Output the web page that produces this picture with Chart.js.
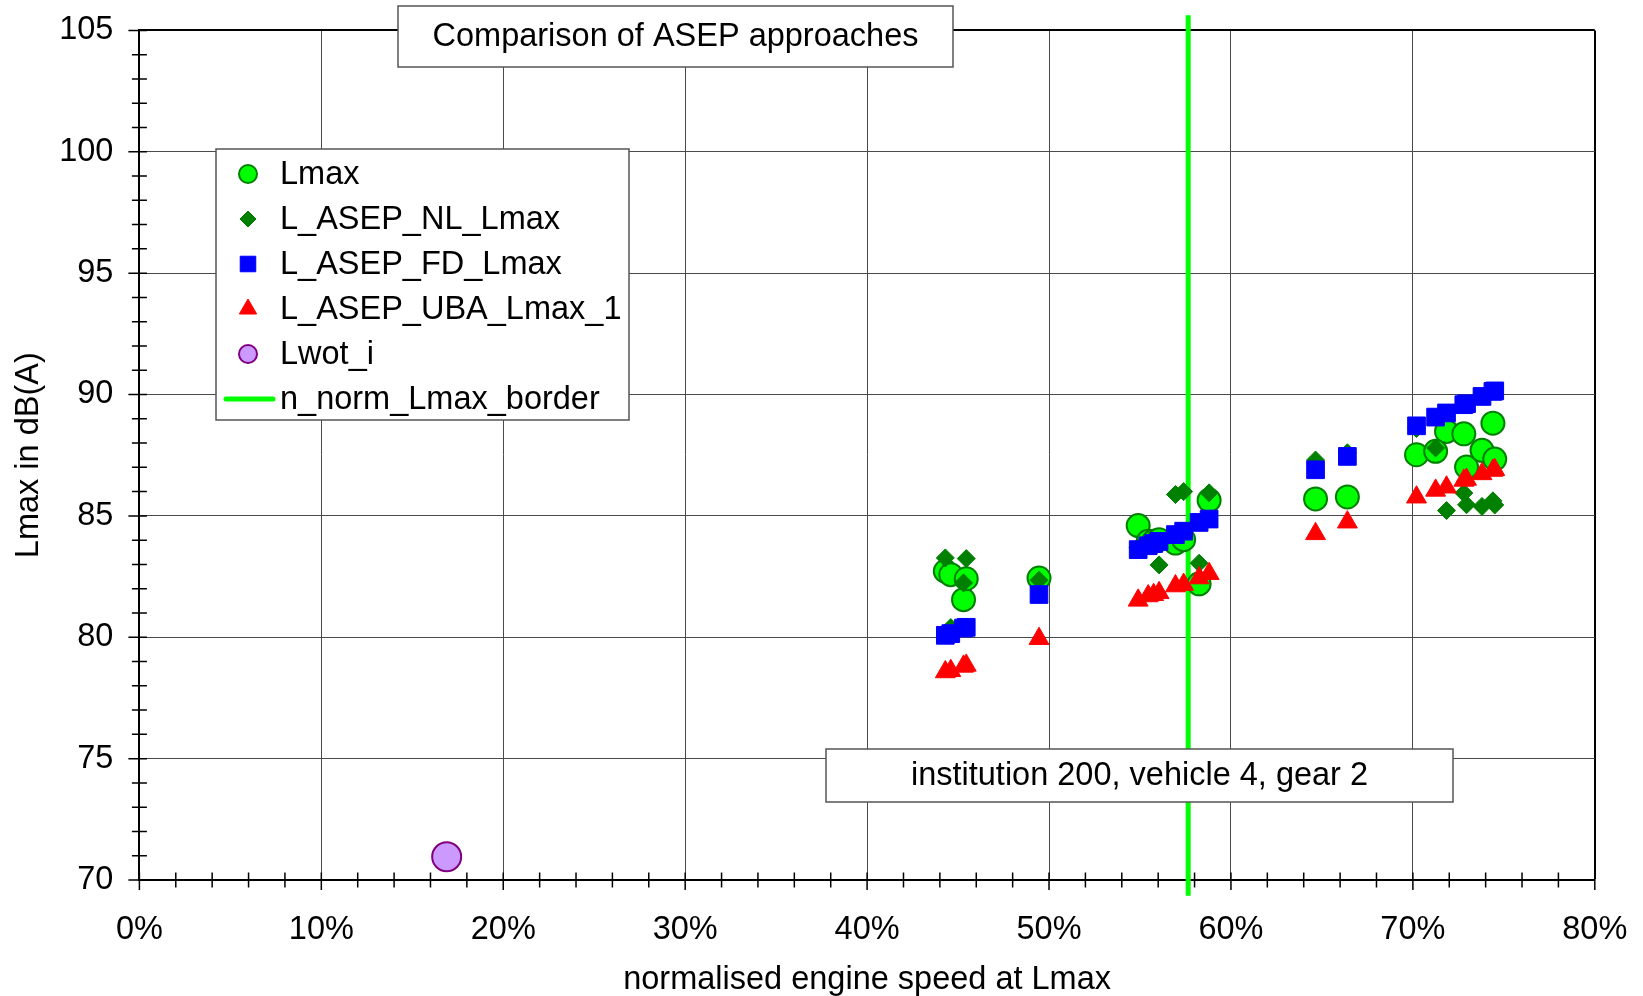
<!DOCTYPE html>
<html>
<head>
<meta charset="utf-8">
<script src="https://cdn.jsdelivr.net/npm/chart.js@4.4.1/dist/chart.umd.min.js"></script>
<style>
  html, body { margin: 0; padding: 0; background: #fff; }
  #wrap { width: 1643px; height: 996px; }
</style>
</head>
<body>
<div id="wrap"><canvas id="chart" width="1643" height="996"></canvas></div>
<script>
// normalised engine speed at Lmax, in %
const nNorm = [44.3, 44.6, 45.3, 45.45, 49.45,
    54.9, 55.45, 55.75, 56.05, 56.95, 57.4, 58.25, 58.8,
    64.65, 66.4,
    70.2, 71.25, 71.85, 72.8, 72.95, 73.8, 74.4, 74.5];

const lmax = [82.72, 82.58, 81.55, 82.41, 82.44,
    84.6, 83.95, 83.95, 84.02, 83.88, 84.02, 82.2, 85.64,
    85.7, 85.78,
    87.52, 87.66, 88.48, 88.38, 87.01, 87.7, 88.82, 87.34];

const lAsepNL = [83.27, 80.4, 82.24, 83.24, 82.35,
    83.7, 83.8, 83.9, 82.98, 85.88, 86.0, 83.05, 85.95,
    87.3, 87.6,
    88.6, 87.8, 85.22, 85.94, 85.46, 85.39, 85.62, 85.45];

const lAsepFD = [80.08, 80.15, 80.38, 80.41, 81.76,
    83.61, 83.77, 83.86, 83.95, 84.23, 84.37, 84.73, 84.87,
    86.9, 87.45,
    88.71, 89.07, 89.24, 89.58, 89.62, 89.92, 90.13, 90.15];

const lAsepUBA = [78.57, 78.62, 78.8, 78.84, 79.94,
    81.52, 81.7, 81.75, 81.83, 82.11, 82.17, 82.44, 82.62,
    84.26, 84.74,
    85.77, 86.05, 86.18, 86.46, 86.5, 86.73, 86.87, 86.9];

const lwotX = [16.89];
const lwotY = [70.96];

// vertical border line
const borderX = [57.65, 57.65];
const borderY = [69.35, 105.62];

const seriesNames = ['Lmax', 'L_ASEP_NL_Lmax', 'L_ASEP_FD_Lmax', 'L_ASEP_UBA_Lmax_1', 'Lwot_i', 'n_norm_Lmax_border'];
const chartTitle = 'Comparison of ASEP approaches';
const infoText = 'institution 200, vehicle 4, gear 2';
const xTitle = 'normalised engine speed at Lmax';
const yTitle = 'Lmax in dB(A)';

const FONT = "'Liberation Sans', Arial, sans-serif";
const FS = 32.5;
const GRID = '#4a4a4a';

function pts(xs, ys) {
    return xs.map((x, i) => ({ x: x, y: ys[i] }));
}

// no extra label padding, so the plot area is where layout.padding says
function noPad(s) {
    s.paddingTop = 0; s.paddingBottom = 0; s.paddingLeft = 0; s.paddingRight = 0;
}

// crossing tick marks like the original
const crossTicks = {
    id: 'crossTicks',
    beforeDatasetsDraw(chart) {
        const ctx = chart.ctx;
        const xs = chart.scales.x, ys = chart.scales.y;
        const x0 = xs.left, y0 = ys.bottom;
        ctx.save();
        ctx.strokeStyle = '#000';
        ctx.lineWidth = 1.5;
        ctx.beginPath();
        for (let v = 70; v <= 105; v += 1) {
            const py = ys.getPixelForValue(v);
            const major = v % 5 === 0;
            ctx.moveTo(x0 - (major ? 11 : 7.5), py);
            ctx.lineTo(x0 + 7.5, py);
        }
        for (let v = 0; v <= 80; v += 2) {
            const px = xs.getPixelForValue(v);
            const major = v % 10 === 0;
            ctx.moveTo(px, y0 - 7.5);
            ctx.lineTo(px, y0 + (major ? 10 : 7.5));
        }
        ctx.stroke();
        ctx.restore();
    }
};

function marker(ctx, style, x, y, r) {
    ctx.beginPath();
    if (style === 'circle') {
        ctx.arc(x, y, r, 0, Math.PI * 2);
    } else if (style === 'rectRot') {
        ctx.moveTo(x - r, y); ctx.lineTo(x, y - r); ctx.lineTo(x + r, y); ctx.lineTo(x, y + r);
    } else if (style === 'rect') {
        const s = r * Math.SQRT1_2;
        ctx.rect(x - s, y - s, 2 * s, 2 * s);
    } else if (style === 'triangle') {
        ctx.moveTo(x, y - r);
        ctx.lineTo(x + r * 0.866, y + r / 2);
        ctx.lineTo(x - r * 0.866, y + r / 2);
    }
    ctx.closePath();
    ctx.fill();
    ctx.stroke();
}

function textBox(ctx, text, l, t, r, b) {
    ctx.fillStyle = '#fff';
    ctx.fillRect(l, t, r - l, b - t);
    ctx.strokeStyle = '#555';
    ctx.lineWidth = 1.5;
    ctx.strokeRect(l, t, r - l, b - t);
    ctx.fillStyle = '#000';
    ctx.font = FS + 'px ' + FONT;
    ctx.textAlign = 'center';
    ctx.textBaseline = 'middle';
    ctx.fillText(text, (l + r) / 2, (t + b) / 2 + 1);
}

const boxes = {
    id: 'boxes',
    afterDraw(chart) {
        const ctx = chart.ctx;
        ctx.save();
        textBox(ctx, chartTitle, 398, 6, 953, 67);
        textBox(ctx, infoText, 826, 749, 1453, 802);

        // legend
        const L = 216, T = 149, R = 629, B = 420;
        ctx.fillStyle = '#fff';
        ctx.fillRect(L, T, R - L, B - T);
        ctx.strokeStyle = '#555';
        ctx.lineWidth = 1.5;
        ctx.strokeRect(L, T, R - L, B - T);
        const ds = chart.data.datasets;
        ds.forEach((d, i) => {
            const yy = T + 25 + i * 45;
            ctx.lineWidth = d.legendBorder;
            if (d.type === 'line') {
                ctx.strokeStyle = d.borderColor;
                ctx.lineWidth = 5;
                ctx.lineCap = 'round';
                ctx.beginPath();
                ctx.moveTo(226, yy);
                ctx.lineTo(273, yy);
                ctx.stroke();
                ctx.lineCap = 'butt';
            } else {
                ctx.fillStyle = d.backgroundColor;
                ctx.strokeStyle = d.borderColor;
                marker(ctx, d.pointStyle, 248, yy, d.legendRadius);
            }
            ctx.fillStyle = '#000';
            ctx.font = FS + 'px ' + FONT;
            ctx.textAlign = 'left';
            ctx.textBaseline = 'middle';
            ctx.fillText(d.label, 280, yy + 1);
        });
        ctx.restore();
    }
};

const cfg = {
    type: 'scatter',
    data: {
        datasets: [{
            label: seriesNames[0],
            data: pts(nNorm, lmax),
            pointStyle: 'circle',
            pointRadius: 11.5,
            backgroundColor: '#00ff00',
            borderColor: '#008000',
            borderWidth: 2,
            legendRadius: 9, legendBorder: 2,
            order: 4
        }, {
            label: seriesNames[1],
            data: pts(nNorm, lAsepNL),
            pointStyle: 'rectRot',
            pointRadius: 9,
            backgroundColor: '#008000',
            borderColor: '#008000',
            borderWidth: 1,
            legendRadius: 8, legendBorder: 1,
            order: 3
        }, {
            label: seriesNames[2],
            data: pts(nNorm, lAsepFD),
            pointStyle: 'rect',
            pointRadius: 12.5,
            backgroundColor: '#0000ff',
            borderColor: '#0000ff',
            borderWidth: 1,
            legendRadius: 11, legendBorder: 1,
            order: 2
        }, {
            label: seriesNames[3],
            data: pts(nNorm, lAsepUBA),
            pointStyle: 'triangle',
            pointRadius: 11.5,
            backgroundColor: '#ff0000',
            borderColor: '#ff0000',
            borderWidth: 1,
            legendRadius: 10, legendBorder: 1,
            order: 1
        }, {
            label: seriesNames[4],
            data: pts(lwotX, lwotY),
            pointStyle: 'circle',
            pointRadius: 14.5,
            backgroundColor: '#cc99ff',
            borderColor: '#800080',
            borderWidth: 2,
            legendRadius: 9, legendBorder: 2,
            order: 0
        }, {
            type: 'line',
            label: seriesNames[5],
            data: pts(borderX, borderY),
            borderColor: '#00ff00',
            borderWidth: 5,
            pointRadius: 0,
            showLine: true,
            clip: false,
            order: 5
        }]
    },
    options: {
        responsive: false,
        devicePixelRatio: 1,
        animation: false,
        layout: { padding: { left: 0, top: 30.4, right: 48.2, bottom: 0 } },
        plugins: {
            legend: { display: false },
            title: { display: false },
            tooltip: { enabled: false }
        },
        scales: {
            x: {
                type: 'linear',
                min: 0, max: 80,
                afterFit(s) { s.height = 116; noPad(s); },
                ticks: {
                    stepSize: 2,
                    autoSkip: false,
                    maxRotation: 0,
                    padding: 31,
                    color: '#000',
                    font: { family: FONT, size: FS },
                    callback: v => (v % 10 === 0 ? v + '%' : '')
                },
                grid: {
                    drawTicks: false,
                    color: c => (c.tick && c.tick.value % 10 === 0 ? (c.tick.value === 80 ? '#000' : GRID) : 'rgba(0,0,0,0)'),
                    lineWidth: c => (c.tick && c.tick.value === 80 ? 2 : 1)
                },
                border: { color: '#000', width: 2 },
                title: {
                    display: true,
                    text: xTitle,
                    color: '#000',
                    font: { family: FONT, size: FS, lineHeight: 1.0 },
                    padding: { top: 0, bottom: 0 }
                }
            },
            y: {
                type: 'linear',
                min: 70, max: 105,
                afterFit(s) { s.width = 139.4; noPad(s); },
                ticks: {
                    stepSize: 1,
                    autoSkip: false,
                    padding: 26,
                    color: '#000',
                    font: { family: FONT, size: FS },
                    callback: v => (v % 5 === 0 ? v : '')
                },
                grid: {
                    drawTicks: false,
                    color: c => (c.tick && c.tick.value % 5 === 0 ? (c.tick.value === 105 ? '#000' : GRID) : 'rgba(0,0,0,0)'),
                    lineWidth: c => (c.tick && c.tick.value === 105 ? 2 : 1)
                },
                border: { color: '#000', width: 2 },
                title: {
                    display: true,
                    text: yTitle,
                    color: '#000',
                    font: { family: FONT, size: FS, lineHeight: 1.2 },
                    padding: { top: 10, bottom: 0 }
                }
            }
        }
    },
    plugins: [crossTicks, boxes]
};

const canvas = document.getElementById('chart');
const myChart = new Chart(canvas, cfg);
</script>
</body>
</html>
